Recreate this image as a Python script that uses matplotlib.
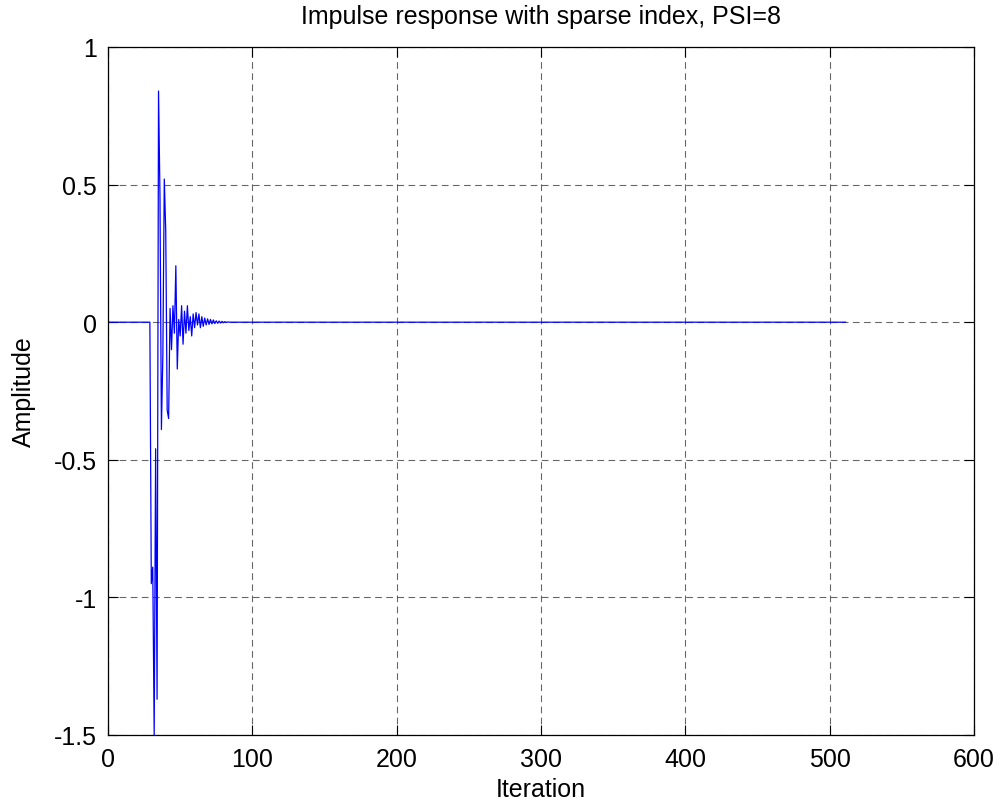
import numpy as np
import matplotlib
matplotlib.use("Agg")
import matplotlib.pyplot as plt

plt.rcParams['font.family'] = ['Liberation Sans', 'DejaVu Sans']

# Data
n_samples = 512
onset_index = 30
response_values = [
    -0.95, -0.89, -1.50, -0.46, -1.37, 0.84, 0.46, -0.39, -0.12, 0.52,
    0.33, -0.32, -0.35, 0.05, -0.10, 0.06, -0.04, 0.205, -0.17, 0.01,
    -0.05, 0.06, -0.08, 0.04, -0.04, 0.06, -0.03, 0.02, -0.05, 0.03,
    -0.02, 0.035, -0.01, 0.03, -0.02, 0.02, -0.015, 0.015, -0.01, 0.012,
    -0.008, 0.01, -0.006, 0.008, -0.005, 0.005, -0.004, 0.004, -0.003, 0.003,
    -0.002, 0.002, -0.001, 0.001,
]
x_ticks = [0, 100, 200, 300, 400, 500, 600]
y_ticks = [-1.5, -1, -0.5, 0, 0.5, 1]
y_tick_labels = ['-1.5', '-1', '-0.5', '0', '0.5', '1']

h = np.zeros(n_samples)
h[onset_index:onset_index + len(response_values)] = response_values
iterations = np.arange(n_samples)

fs = 18
fig = plt.figure(figsize=(10.01, 8.04), dpi=100)
ax = fig.add_axes([0.1079, 0.0846, 0.8651, 0.8557])
ax.plot(iterations, h, color='#0000ff', linewidth=0.9)

ax.set_xlim(0, 600)
ax.set_ylim(-1.5, 1)
ax.set_xticks(x_ticks)
ax.set_yticks(y_ticks)
ax.set_yticklabels(y_tick_labels)
ax.tick_params(direction='in', length=7, width=0.8, top=True, right=True,
               labelsize=fs)
ax.tick_params(axis='x', pad=9)
ax.tick_params(axis='y', pad=8)
ax.grid(True, color='#333333', linestyle=(0, (6, 4)), linewidth=0.8, alpha=0.75)
for s in ax.spines.values():
    s.set_linewidth(0.9)

ax.set_title('Impulse response with sparse index, PSI=8', fontsize=fs, pad=17)
ax.set_xlabel('Iteration', fontsize=fs, labelpad=4)
ax.set_ylabel('Amplitude', fontsize=fs, labelpad=13)

fig.savefig('out.png', dpi=100)
